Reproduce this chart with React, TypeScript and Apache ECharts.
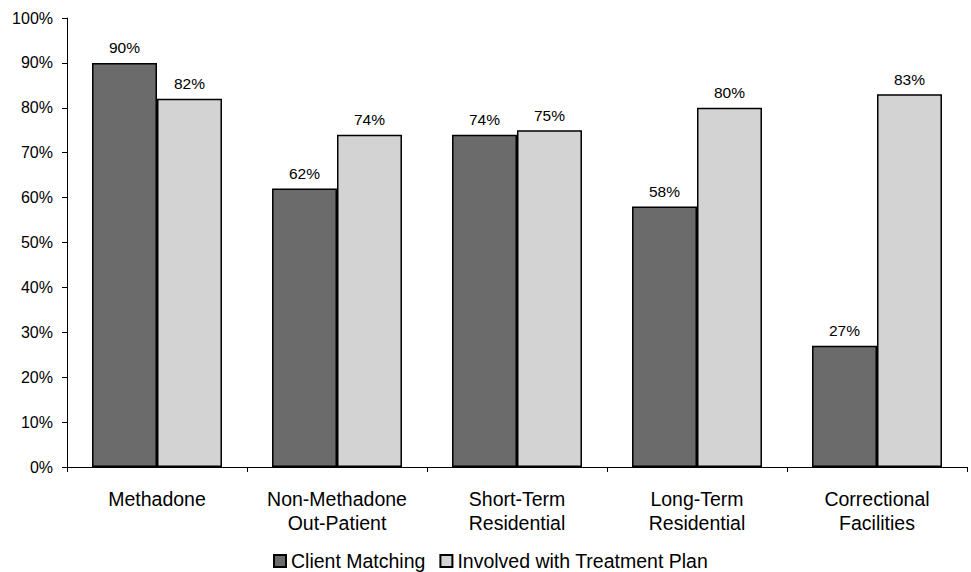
import React, { useEffect, useRef } from "react";
import * as echarts from "echarts";

const categories = [
  "Methadone",
  "Non-Methadone\nOut-Patient",
  "Short-Term\nResidential",
  "Long-Term\nResidential",
  "Correctional\nFacilities",
];
const clientMatching = [90, 62, 74, 58, 27];
const treatmentPlan = [82, 74, 75, 80, 83];
const seriesNames = ["Client Matching", "Involved with Treatment Plan"];

const FONT = "'Liberation Sans', Arial, sans-serif";

export default function App() {
  const ref = useRef<HTMLDivElement>(null);
  useEffect(() => {
    if (!ref.current) return;
    const chart = echarts.init(ref.current, undefined, { renderer: "svg" });
    const label = {
      show: true,
      position: "top" as const,
      distance: 7,
      formatter: "{c}%",
      color: "#000",
      fontSize: 15.5,
      fontFamily: FONT,
    };
    chart.setOption({
      animation: false,
      backgroundColor: "#fff",
      textStyle: { fontFamily: FONT },
      grid: { left: 67, right: 4, top: 18, bottom: 105, containLabel: false },
      legend: {
        left: 273,
        top: 551,
        padding: 0,
        itemWidth: 12,
        itemHeight: 12,
        itemGap: 14,
        icon: "rect",
        textStyle: { fontSize: 19.5, lineHeight: 20, color: "#000", fontFamily: FONT },
        data: seriesNames,
      },
      xAxis: {
        type: "category",
        data: categories,
        axisLine: { lineStyle: { color: "#000", width: 1 } },
        axisTick: { show: true, length: 5, lineStyle: { color: "#000" } },
        axisLabel: {
          color: "#000",
          fontSize: 19.5,
          fontFamily: FONT,
          margin: 20,
          lineHeight: 24,
          interval: 0,
        },
        splitLine: { show: false },
      },
      yAxis: {
        type: "value",
        min: 0,
        max: 100,
        interval: 10,
        axisLine: { show: true, lineStyle: { color: "#000", width: 1 } },
        axisTick: { show: true, length: 5, lineStyle: { color: "#000" } },
        axisLabel: {
          formatter: "{value}%",
          color: "#000",
          fontSize: 16,
          fontFamily: FONT,
          margin: 14,
        },
        splitLine: { show: false },
      },
      series: [
        {
          name: seriesNames[0],
          type: "bar",
          data: clientMatching,
          barGap: "0%",
          barCategoryGap: "27.8%",
          itemStyle: { color: "#6b6b6b", borderColor: "#000", borderWidth: 1.5 },
          label,
        },
        {
          name: seriesNames[1],
          type: "bar",
          data: treatmentPlan,
          barGap: "0%",
          barCategoryGap: "27.8%",
          itemStyle: { color: "#d3d3d3", borderColor: "#000", borderWidth: 1.5 },
          label,
        },
      ],
    });
    return () => chart.dispose();
  }, []);
  return (
    <div
      ref={ref}
      style={{ position: "fixed", left: 0, top: 0, width: 971, height: 572, background: "#fff" }}
    />
  );
}
